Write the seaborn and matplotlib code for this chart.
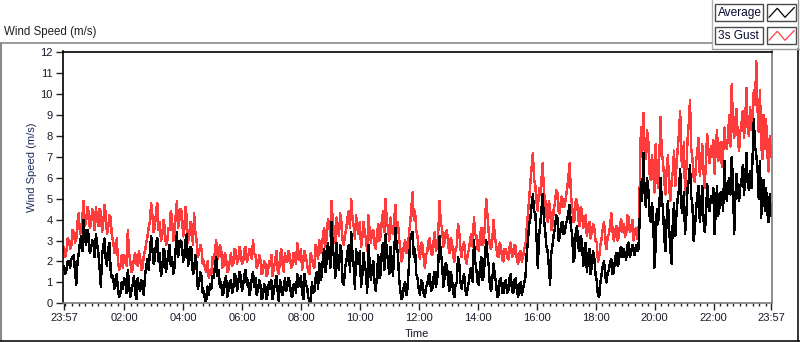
import numpy as np
import pandas as pd
import matplotlib
matplotlib.use("Agg")
import matplotlib.pyplot as plt
import matplotlib.dates as mdates
from matplotlib.lines import Line2D
from matplotlib.patches import Rectangle
import seaborn as sns

# ---------------- data (2.5-minute samples from 23:57 to 23:57) ----------------
start_time = "2024-01-01 23:57"
step = "150s"

gust_speed = [
    2.7, 2.2, 2.5, 3.1, 3.0, 2.6, 2.8, 3.5, 3.4, 2.9, 3.1, 3.9, 4.3, 3.3, 3.5, 4.2, 4.9, 3.7, 3.9, 4.6, 4.4, 3.6, 3.8, 4.5,
    4.2, 3.5, 4.6, 4.0, 3.7, 4.5, 4.4, 3.4, 3.9, 4.7, 4.3, 3.3, 3.6, 4.2, 4.1, 3.2, 3.0, 2.4, 2.6, 3.1, 2.0, 1.6, 1.8, 2.3,
    1.7, 2.3, 2.1, 1.8, 3.5, 2.4, 2.0, 1.5, 1.6, 2.2, 2.4, 1.9, 1.8, 2.5, 2.2, 1.6, 1.7, 2.3, 2.5, 2.9, 3.2, 3.6, 3.9, 4.8,
    4.2, 3.4, 3.6, 4.4, 4.8, 3.5, 3.9, 3.0, 3.2, 4.0, 3.7, 2.8, 2.9, 3.6, 3.5, 4.4, 4.1, 3.0, 3.3, 4.2, 4.9, 3.6, 4.0, 4.5,
    4.4, 3.2, 3.5, 4.6, 4.1, 2.9, 3.2, 3.9, 3.8, 2.8, 4.3, 3.4, 3.0, 2.2, 2.4, 2.8, 2.6, 1.9, 2.0, 1.6, 1.5, 2.0, 1.2, 1.6,
    1.4, 2.2, 1.9, 2.5, 3.0, 2.1, 2.3, 2.8, 2.6, 1.7, 1.8, 2.4, 2.2, 1.5, 1.6, 2.0, 2.4, 1.8, 1.9, 2.6, 2.5, 1.9, 2.1, 2.7,
    2.4, 1.9, 2.0, 2.6, 2.7, 2.0, 2.2, 2.6, 2.5, 2.1, 3.0, 2.4, 2.3, 1.7, 1.8, 2.3, 2.1, 1.4, 1.5, 2.0, 1.9, 1.3, 1.4, 2.0,
    1.8, 2.3, 1.3, 1.7, 2.0, 2.5, 1.6, 1.4, 2.2, 2.6, 1.9, 1.5, 2.4, 2.0, 2.0, 2.5, 2.3, 1.7, 1.8, 2.4, 2.2, 1.9, 2.9, 2.1,
    2.1, 2.6, 1.6, 2.0, 2.5, 2.2, 1.9, 1.5, 1.4, 2.4, 2.2, 1.8, 1.7, 2.8, 2.6, 2.1, 3.0, 2.4, 2.5, 3.3, 3.6, 2.7, 3.1, 4.0,
    3.8, 3.2, 4.9, 3.9, 3.5, 2.9, 4.1, 3.6, 3.2, 4.3, 3.9, 3.0, 2.8, 3.3, 3.6, 4.1, 4.4, 3.6, 5.0, 4.1, 3.7, 3.1, 4.2, 3.6,
    3.3, 3.9, 2.7, 3.1, 3.9, 3.4, 3.1, 2.5, 4.2, 3.5, 2.9, 3.4, 3.5, 2.8, 2.6, 3.3, 3.8, 3.0, 3.2, 4.0, 4.4, 3.4, 5.0, 3.9,
    3.6, 3.0, 4.1, 3.5, 3.3, 4.0, 4.7, 3.6, 3.9, 3.1, 2.6, 2.0, 2.2, 2.8, 3.0, 2.4, 2.5, 3.3, 3.8, 4.6, 5.3, 4.0, 4.4, 3.5,
    3.2, 2.5, 2.1, 2.9, 2.8, 2.2, 1.7, 2.3, 2.5, 3.0, 3.1, 2.4, 2.3, 2.9, 3.4, 2.5, 2.7, 3.5, 4.9, 3.8, 3.6, 2.7, 2.9, 3.4,
    3.5, 2.8, 2.4, 3.1, 3.0, 2.3, 2.0, 2.6, 2.7, 3.8, 3.4, 2.6, 2.2, 2.8, 2.9, 2.2, 1.9, 2.4, 2.6, 3.1, 3.3, 2.7, 4.1, 3.3,
    3.2, 2.6, 2.5, 3.3, 3.6, 2.8, 2.9, 3.9, 5.0, 4.2, 3.4, 2.7, 2.6, 3.1, 4.0, 3.2, 2.8, 2.3, 2.2, 2.9, 2.7, 2.1, 2.0, 2.6,
    2.6, 2.2, 2.1, 2.7, 2.9, 2.2, 2.3, 2.8, 2.7, 2.1, 1.9, 2.4, 2.5, 2.0, 2.2, 2.6, 2.8, 3.6, 4.3, 5.0, 5.8, 6.5, 7.2, 5.9,
    5.6, 4.8, 4.4, 5.5, 5.2, 5.9, 6.7, 5.3, 5.0, 4.2, 3.9, 4.9, 4.6, 3.5, 3.7, 4.5, 4.8, 5.4, 5.3, 4.4, 4.3, 5.1, 5.0, 4.6,
    4.7, 5.1, 5.5, 6.1, 6.7, 5.2, 4.6, 3.9, 4.0, 5.0, 4.9, 4.0, 3.7, 4.6, 4.4, 3.6, 3.8, 4.2, 3.2, 3.7, 3.9, 3.1, 3.4, 3.8,
    3.6, 3.0, 2.9, 2.0, 2.2, 2.8, 3.1, 3.6, 3.9, 2.9, 2.6, 3.2, 3.3, 3.8, 4.3, 3.4, 3.0, 3.5, 3.7, 3.0, 3.2, 3.8, 4.0, 3.4,
    3.8, 3.2, 3.3, 4.2, 4.1, 3.4, 3.5, 4.0, 3.0, 3.4, 3.6, 3.1, 3.2, 5.5, 8.4, 7.0, 9.1, 7.6, 6.9, 8.3, 7.8, 6.2, 5.9, 7.1,
    6.4, 5.3, 7.6, 6.3, 5.5, 7.0, 8.9, 7.2, 6.8, 5.9, 5.2, 6.4, 7.1, 5.6, 4.9, 5.8, 6.3, 7.3, 5.6, 6.6, 7.4, 8.1, 9.2, 6.9,
    6.5, 7.7, 5.2, 6.4, 7.8, 8.6, 9.7, 7.4, 6.9, 6.0, 5.8, 6.8, 7.3, 7.9, 6.1, 6.8, 7.6, 6.3, 5.5, 6.9, 8.1, 7.2, 6.7, 7.5,
    7.0, 7.8, 6.2, 7.4, 8.3, 6.8, 7.1, 7.7, 6.5, 7.2, 8.4, 7.6, 7.4, 8.0, 9.0, 7.5, 10.5, 8.6, 7.9, 8.8, 9.3, 7.8, 7.3, 8.2,
    8.6, 9.2, 7.9, 8.8, 10.3, 8.4, 8.0, 9.4, 8.3, 9.0, 10.2, 9.5, 11.6, 9.3, 8.2, 10.2, 7.6, 6.9, 9.0, 7.4, 8.8, 7.2, 6.3, 8.0, 7.0,
]

avg_speed = [
    1.8, 1.4, 1.6, 2.0, 2.0, 1.7, 2.1, 2.2, 2.3, 1.5, 0.9, 2.0, 2.4, 2.9, 3.2, 2.5, 4.0, 3.1, 2.8, 3.5, 3.3, 2.4, 2.6, 3.0,
    2.9, 2.2, 3.3, 2.8, 2.4, 1.7, 0.8, 2.3, 2.7, 3.1, 2.1, 1.8, 2.6, 2.9, 1.6, 1.2, 1.3, 0.7, 0.9, 1.4, 0.6, 0.3, 0.5, 1.0,
    0.7, 1.2, 1.1, 0.5, 1.6, 0.9, 0.3, 0.6, 0.9, 1.3, 0.5, 0.2, 1.2, 0.8, 0.6, 1.1, 1.0, 0.4, 1.3, 1.8, 2.1, 1.6, 2.5, 3.2,
    2.6, 1.9, 2.1, 2.9, 3.1, 2.0, 2.4, 1.3, 1.6, 2.6, 2.5, 1.5, 1.9, 2.4, 2.8, 1.8, 2.2, 1.4, 1.7, 2.6, 3.4, 2.2, 2.7, 3.0,
    2.9, 2.0, 2.2, 3.0, 3.3, 1.8, 2.0, 2.7, 2.6, 1.4, 1.5, 2.3, 1.9, 0.7, 0.9, 1.5, 1.3, 0.5, 0.6, 0.1, 0.2, 0.8, 0.4, 0.9,
    0.7, 1.3, 1.2, 1.8, 2.2, 1.3, 1.6, 0.8, 1.0, 0.4, 0.5, 1.1, 1.3, 0.3, 0.6, 1.0, 1.1, 0.5, 0.8, 1.4, 1.3, 0.6, 1.0, 1.5,
    1.3, 0.6, 0.9, 1.4, 1.6, 0.9, 1.1, 0.4, 0.7, 1.2, 1.5, 0.8, 1.2, 0.4, 0.6, 1.1, 0.9, 0.2, 0.3, 0.9, 0.8, 0.2, 0.5, 1.0,
    0.7, 1.1, 0.2, 0.6, 1.0, 1.3, 0.6, 0.1, 1.1, 0.8, 0.4, 0.7, 1.2, 0.6, 0.8, 1.2, 1.0, 0.4, 0.3, 0.9, 0.9, 0.5, 1.4, 0.8,
    0.9, 1.3, 0.5, 0.2, 1.4, 0.9, 0.8, 0.3, 0.1, 0.0, 1.0, 0.5, 0.6, 1.2, 1.5, 0.7, 1.9, 1.1, 1.3, 2.2, 2.6, 1.5, 2.0, 2.9,
    2.4, 1.7, 3.9, 2.6, 2.2, 1.2, 2.9, 2.0, 1.6, 2.8, 2.5, 1.0, 0.9, 1.7, 2.0, 2.5, 2.8, 1.5, 3.4, 2.4, 1.8, 0.7, 2.6, 1.9,
    1.9, 2.5, 0.8, 1.3, 2.4, 1.8, 1.5, 0.5, 2.8, 2.0, 1.1, 1.7, 2.0, 1.0, 0.6, 1.4, 2.3, 1.2, 1.4, 2.6, 2.9, 1.6, 3.3, 2.5,
    2.0, 1.4, 2.7, 2.1, 1.3, 2.5, 3.6, 2.8, 2.4, 1.2, 0.6, 0.2, 0.3, 0.9, 1.0, 0.4, 0.8, 1.8, 3.0, 3.3, 3.4, 2.2, 2.6, 1.4,
    1.2, 0.7, 0.4, 1.1, 1.0, 0.5, 0.3, 0.8, 0.9, 1.3, 1.4, 0.6, 0.7, 1.2, 1.5, 0.8, 1.1, 2.0, 3.2, 2.4, 2.0, 0.8, 1.2, 1.9,
    1.8, 1.0, 0.6, 1.5, 1.3, 0.5, 0.3, 0.9, 1.0, 2.2, 1.9, 1.0, 0.7, 1.2, 1.4, 0.6, 0.4, 0.8, 1.1, 1.6, 1.7, 1.0, 3.0, 2.0,
    1.6, 1.0, 0.9, 1.8, 2.2, 1.1, 1.3, 2.4, 3.0, 2.3, 1.8, 0.8, 0.6, 1.2, 1.9, 1.3, 1.0, 0.3, 0.4, 1.1, 1.2, 0.5, 0.5, 1.0,
    1.1, 0.5, 0.6, 1.2, 1.4, 0.6, 0.5, 1.1, 1.2, 0.6, 0.3, 0.9, 1.0, 0.4, 0.7, 1.0, 1.3, 2.4, 3.0, 3.8, 4.1, 4.7, 5.2, 4.4,
    4.3, 3.1, 1.7, 3.2, 3.8, 4.5, 5.2, 4.0, 3.5, 2.7, 2.5, 1.8, 0.9, 2.4, 2.8, 3.3, 3.6, 4.2, 4.1, 3.0, 3.2, 3.8, 3.9, 3.3,
    3.4, 3.8, 4.0, 4.4, 4.7, 3.6, 3.3, 2.0, 2.2, 3.5, 3.7, 2.7, 2.5, 3.2, 3.0, 1.8, 2.0, 2.9, 1.5, 2.3, 2.6, 1.4, 1.8, 2.5,
    2.2, 1.4, 1.1, 0.4, 0.3, 1.0, 1.4, 1.8, 2.0, 1.3, 1.0, 1.5, 1.6, 2.0, 2.1, 1.4, 1.5, 2.2, 2.4, 1.8, 1.9, 2.6, 2.7, 2.2,
    2.6, 2.3, 2.1, 2.8, 2.9, 2.2, 2.4, 2.8, 2.5, 2.3, 2.8, 2.5, 2.6, 4.0, 5.8, 4.9, 7.2, 5.4, 4.6, 6.0, 5.5, 4.2, 3.9, 4.8,
    4.2, 1.7, 2.7, 4.5, 3.8, 4.6, 6.0, 5.0, 4.5, 3.2, 2.5, 4.0, 4.9, 3.6, 2.6, 1.9, 3.9, 4.8, 3.2, 4.3, 5.0, 5.4, 6.4, 4.6,
    4.3, 5.3, 3.3, 4.2, 5.5, 5.9, 6.6, 5.1, 4.7, 3.0, 3.6, 4.5, 5.2, 5.6, 3.9, 4.6, 5.6, 4.0, 3.4, 4.1, 5.7, 4.9, 4.4, 5.1,
    4.8, 5.5, 3.3, 4.4, 5.6, 4.2, 4.6, 5.3, 5.2, 4.4, 6.8, 5.5, 4.9, 5.7, 6.0, 5.2, 7.0, 5.8, 3.3, 5.1, 6.2, 5.3, 4.9, 5.6,
    5.9, 6.6, 5.2, 6.0, 7.2, 5.8, 5.4, 6.3, 5.5, 7.0, 8.8, 7.5, 7.1, 6.5, 5.0, 6.8, 4.1, 5.3, 5.9, 4.4, 5.5, 4.3, 3.9, 5.2, 4.2,
]

y_ticks = list(range(0, 13))
x_tick_hours = ["02:00", "04:00", "06:00", "08:00", "10:00", "12:00",
                "14:00", "16:00", "18:00", "20:00", "22:00"]
series_names = ["Average", "3s Gust"]
series_colors = ["#000000", "#ff3b3b"]

# ---------------- figure ----------------
W, H = 800, 342
sns.set_theme(style="white")
plt.rcParams["font.family"] = ["Liberation Sans", "DejaVu Sans"]
fig = plt.figure(figsize=(W / 100, H / 100), dpi=100)
fig.patch.set_facecolor("white")

def fx(x):
    return x / W

def fy(y):
    return 1 - y / H

ax_l, ax_r, ax_t, ax_b = 62.5, 772, 51.5, 303.3
ax = fig.add_axes([fx(ax_l), fy(ax_b), fx(ax_r) - fx(ax_l), fy(ax_t) - fy(ax_b)])
ax.set_facecolor("white")

times = pd.date_range(start=start_time, periods=len(avg_speed), freq=step)
df = pd.DataFrame({"time": times, "avg": avg_speed, "gust": gust_speed})

sns.lineplot(data=df, x="time", y="gust", color=series_colors[1], lw=1.0,
             estimator=None, ax=ax, antialiased=False)
sns.lineplot(data=df, x="time", y="avg", color=series_colors[0], lw=1.0,
             estimator=None, ax=ax, antialiased=False)

t0 = mdates.date2num(times[0])
t1 = mdates.date2num(times[-1])
span = t1 - t0
px_per = (771 - 64) / span
ax.set_xlim(t0 - (64 - ax_l) / px_per, t1 + (ax_r - 771) / px_per)
ax.set_ylim(0, 12.0 + 0.8 / 20.9)

day2 = times[0].normalize() + pd.Timedelta(days=1)
major = [times[0]] + [day2 + pd.Timedelta(hours=int(s[:2])) for s in x_tick_hours] + [times[-1]]
ax.set_xticks([mdates.date2num(t) for t in major])
ax.set_xticklabels([t.strftime("%H:%M") for t in major])
minor = []
m = day2
while m < times[-1]:
    if all(abs((m - t).total_seconds()) > 60 for t in major):
        minor.append(mdates.date2num(m))
    m = m + pd.Timedelta(seconds=800)
ax.set_xticks(minor, minor=True)

ax.set_yticks(y_ticks)
ax.set_yticklabels([str(v) for v in y_ticks])

txt_col = "#1a1a2a"
ax.tick_params(axis="x", which="major", length=5, width=1, color="#222222",
               labelsize=8, pad=2, labelcolor=txt_col, direction="out", bottom=True)
ax.tick_params(axis="x", which="minor", length=2.5, width=1, color="#222222",
               direction="out", bottom=True)
ax.tick_params(axis="y", which="major", length=5, width=1, color="#222222",
               labelsize=8, pad=2, labelcolor=txt_col, direction="out", left=True)

for side in ["top", "left"]:
    ax.spines[side].set_color("#000000")
    ax.spines[side].set_linewidth(1.2)
for side in ["right", "bottom"]:
    ax.spines[side].set_color("#7a7a7a")
    ax.spines[side].set_linewidth(1.2)

ax.set_xlabel("Time", fontsize=8, color=txt_col)
ax.set_ylabel("Wind Speed (m/s)", fontsize=8, color="#1c2c5c")
ax.yaxis.set_label_coords((32 - ax_l) / (ax_r - ax_l), (ax_b - 167) / (ax_b - ax_t))
ax.xaxis.set_label_coords(0.5, (ax_b - 334) / (ax_b - ax_t))
ax.xaxis.label.set_va("center")
ax.yaxis.label.set_va("center")

# ---------------- panel frame & title ----------------
def hline(y, x0, x1, c, lw=1.0):
    fig.add_artist(Line2D([fx(x0), fx(x1)], [fy(y), fy(y)], color=c, lw=lw,
                          transform=fig.transFigure))

def vline(x, y0, y1, c, lw=1.0):
    fig.add_artist(Line2D([fx(x), fx(x)], [fy(y0), fy(y1)], color=c, lw=lw,
                          transform=fig.transFigure))

hline(42.5, 0, 712, "#8a8a8a", 1.2)
vline(1.0, 42.5, 342, "#8a8a8a", 1.5)
hline(341.3, 0, 800, "#111111", 1.2)
vline(798.3, 49, 342, "#111111", 1.2)
vline(712, 0, 49, "#b0b0b0", 1.0)
hline(49, 712, 800, "#9a9a9a", 1.0)
vline(797.5, 0, 49, "#9a9a9a", 1.0)

fig.text(fx(4), fy(32), "Wind Speed (m/s)", fontsize=8.3, color="#202020",
         ha="left", va="center")

# ---------------- legend ----------------
leg_rows = [4, 27]
for name, col, y0 in zip(series_names, [series_colors[0], "#ff4040"], leg_rows):
    fig.add_artist(Rectangle((fx(715), fy(y0 + 17)), fx(763) - fx(715),
                             fy(y0) - fy(y0 + 17), facecolor="white",
                             edgecolor="#4a4a4a", lw=1.0, transform=fig.transFigure))
    fig.text(fx(717.5), fy(y0 + 8.8), name, fontsize=8.6, color="#0a0a30",
             ha="left", va="center")
    fig.add_artist(Rectangle((fx(767), fy(y0 + 17)), fx(796) - fx(767),
                             fy(y0) - fy(y0 + 17), facecolor="white",
                             edgecolor="#4a4a4a", lw=1.0, transform=fig.transFigure))
    zx = [769, 777.3, 785, 794.3]
    zy = [y0 + 13.3, y0 + 4.3, y0 + 13.3, y0 + 3.5]
    fig.add_artist(Line2D([fx(v) for v in zx], [fy(v) for v in zy], color=col,
                          lw=0.9, transform=fig.transFigure))

fig.savefig("out.png", dpi=100, facecolor="white")
